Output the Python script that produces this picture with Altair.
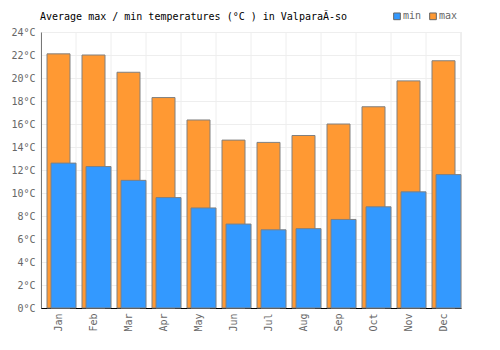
import altair as alt
import pandas as pd

months = ["Jan", "Feb", "Mar", "Apr", "May", "Jun", "Jul", "Aug", "Sep", "Oct", "Nov", "Dec"]
t_max = [22.1, 22.0, 20.5, 18.3, 16.35, 14.6, 14.4, 15.0, 16.0, 17.5, 19.75, 21.5]
t_min = [12.6, 12.3, 11.1, 9.6, 8.7, 7.3, 6.8, 6.9, 7.7, 8.8, 10.1, 11.6]
y_ticks = list(range(0, 25, 2))
series = ["min", "max"]
colors = ["#3399ff", "#ff9933"]
title_text = ["Average max / min temperatures (°C ) in ValparaÃ-so"]

df = pd.DataFrame({"month": months, "min": t_min, "max": t_max})
FONT = "DejaVu Sans Mono"

x_scale = alt.Scale(domain=months, paddingInner=0, paddingOuter=0)
x_axis = alt.Axis(title=None, labelAngle=-90, ticks=False, grid=False,
                  domainColor="black", labelColor="#666666",
                  labelFont=FONT, labelFontSize=10, labelPadding=5)
x_enc = alt.X("month:N", sort=months, scale=x_scale, axis=x_axis)
y_scale = alt.Scale(domain=[0, 24], nice=False)
y_axis = alt.Axis(title=None, values=y_ticks, labelExpr="datum.value + '°C'",
                  ticks=False, grid=True, gridColor="#eeeeee",
                  labelOverlap=False,
                  domainColor="black", labelColor="#666666",
                  labelFont=FONT, labelFontSize=10, labelPadding=6)
y_enc = alt.Y("temp:Q", scale=y_scale, axis=y_axis)
color_scale = alt.Scale(domain=series, range=colors)
legend = alt.Legend(title=None, orient="none", direction="horizontal",
                    legendX=351, legendY=-21, symbolType="square",
                    symbolSize=45, symbolStrokeColor="#666666",
                    symbolStrokeWidth=1, labelFont=FONT,
                    labelFontSize=10, labelColor="#666666",
                    columnPadding=5, labelOffset=1)
color_enc = alt.Color("series:N", scale=color_scale, legend=legend)

base = alt.Chart(df)

vgrid = base.mark_rule(color="#eeeeee", strokeWidth=1).encode(
    x=alt.X("month:N", sort=months, scale=x_scale, bandPosition=0, axis=x_axis)
)
vgrid_end = base.mark_rule(color="#eeeeee", strokeWidth=1).encode(
    x=alt.value(420), y=alt.value(0), y2=alt.value(276)
)

bars_max = base.transform_fold(["max"], as_=["series", "temp"]).mark_bar(
    width=23, xOffset=0, stroke="#808080", strokeWidth=1
).encode(x=x_enc, y=y_enc, color=color_enc)

bars_min = base.transform_fold(["min"], as_=["series", "temp"]).mark_bar(
    width=25, xOffset=5, stroke="#808080", strokeWidth=1
).encode(x=x_enc, y=y_enc, color=color_enc)

title = alt.Chart(pd.DataFrame({"t": title_text})).mark_text(
    align="left", baseline="alphabetic", font=FONT, fontSize=10, color="black"
).encode(x=alt.value(-1), y=alt.value(-12), text="t:N")

chart = alt.layer(vgrid, vgrid_end, bars_max, bars_min, title).properties(
    width=420, height=276,
    autosize=alt.AutoSizeParams(type="none"),
    padding={"left": 41, "top": 32, "right": 39, "bottom": 42},
).configure_view(stroke=None)

chart.save("out.html", embed_options={"renderer": "svg", "actions": False})
